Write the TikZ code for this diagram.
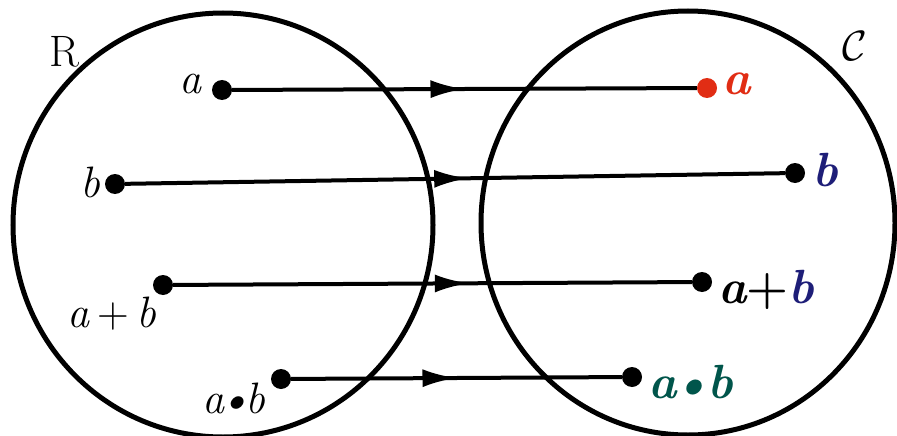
\documentclass[tikz,border=0pt]{standalone}
\usetikzlibrary{arrows.meta,decorations.markings}
\definecolor{lblred}{RGB}{225,45,20}
\definecolor{lblblue}{RGB}{30,30,120}
\definecolor{lblteal}{RGB}{0,85,75}
\begin{document}
\begin{tikzpicture}[x=1pt,y=-1pt,
  setcircle/.style={draw=black,line width=5pt},
  pt/.style={circle,fill=black,inner sep=0pt,minimum size=20pt},
  lbl/.style={font=\fontsize{44}{48}\selectfont\itshape,inner sep=0pt},
  blbl/.style={font=\fontsize{48}{52}\selectfont\bfseries\itshape,inner sep=0pt},
  maparrow/.style={line width=4pt,postaction={decorate},
    decoration={markings,mark=at position #1 with {\arrow{Latex[length=34pt,width=18pt]}}}}
]
\useasboundingbox (0,0) rectangle (897,436);
\fill[white] (0,0) rectangle (897,436);
% sets
\draw[setcircle] (223,225) ellipse [x radius=210, y radius=212];
\draw[setcircle] (688,223) ellipse [x radius=207, y radius=212];
\node[inner sep=0pt,font=\fontsize{44}{48}\selectfont] (R) at (64,52) {R};
\node[inner sep=0pt,font=\Huge,scale=1.7,transform shape] (C) at (855,46) {$\mathcal{C}$};
% left points
\node[pt] (la) at (222,90) {};
\node[pt] (lb) at (115,184) {};
\node[pt] (lab) at (163,285) {};
\node[pt] (lm) at (281,379) {};
\node[lbl,anchor=east] (tla) at (202,84) {a};
\node[lbl,anchor=east] (tlb) at (100,182) {b};
\node[lbl] (tlab) at (112,314) {a\,\upshape{+}\,\itshape b};
\node[lbl] (tlm) at (234,398) {a\kern-6pt\textbullet\kern-6pt b};
% right points
\node[pt,fill=lblred] (ra) at (707,88) {};
\node[pt] (rb) at (795,173) {};
\node[pt] (rab) at (702,282) {};
\node[pt] (rm) at (632,377) {};
\node[blbl,text=lblred,anchor=west] (tra) at (722,84) {a};
\node[blbl,text=lblblue,anchor=west] (trb) at (812,170) {b};
\node[blbl,anchor=west] (trab) at (718,290) {a\upshape{+}\itshape\textcolor{lblblue}{b}};
\node[blbl,text=lblteal,anchor=west] (trm) at (648,382) {a\kern-6pt\textbullet\kern-6pt b};
% maps
\draw[maparrow=0.5] (la) -- (ra);
\draw[maparrow=0.52] (lb) -- (rb);
\draw[maparrow=0.57] (lab) -- (rab);
\draw[maparrow=0.5] (lm) -- (rm);
\end{tikzpicture}
\end{document}
